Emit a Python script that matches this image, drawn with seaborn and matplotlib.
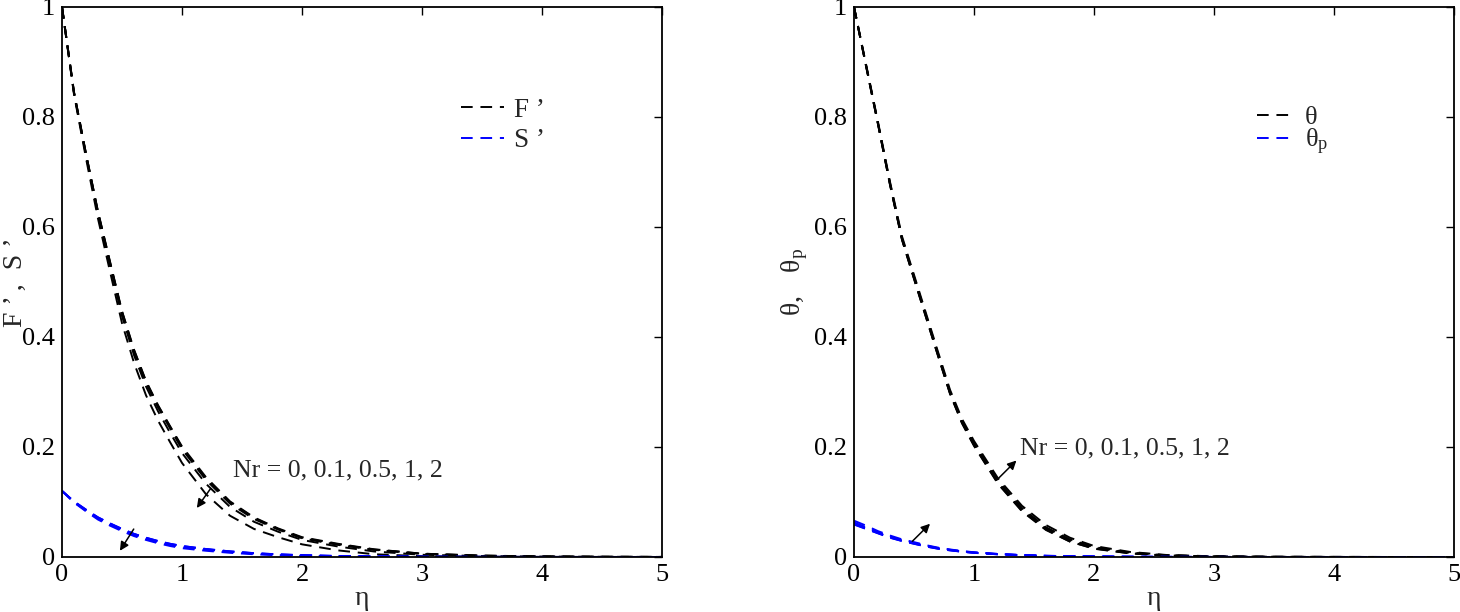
import matplotlib as mpl
import pandas as pd
import seaborn as sns
from matplotlib import pyplot as plt
from matplotlib.lines import Line2D

sns.set_theme(style='white')
mpl.rcParams['font.family'] = ['Liberation Serif', 'DejaVu Serif']
mpl.rcParams['mathtext.fontset'] = 'custom'
mpl.rcParams['mathtext.rm'] = 'Liberation Serif'

# eta grid shared by every curve
eta = [0, 0.1, 0.2, 0.3, 0.4, 0.5, 0.6, 0.7, 0.8, 0.9, 1.0, 1.2, 1.4, 1.6,
       1.8, 2.0, 2.3, 2.6, 3.0, 3.5, 4.0, 4.5, 5.0]
nr_values = ['0', '0.1', '0.5', '1', '2']

# F' for Nr = 0, 0.1, 0.5, 1, 2
fp_nr0 = [1.0, 0.845, 0.733, 0.628, 0.537, 0.447, 0.377, 0.320, 0.276, 0.238, 0.201,
          0.145, 0.101, 0.072, 0.052, 0.036, 0.024, 0.014, 0.006, 0.0025, 0.001, 0.0004, 0.0001]
fp_nr01 = [1.0, 0.845, 0.733, 0.627, 0.536, 0.446, 0.376, 0.319, 0.275, 0.237, 0.199,
           0.143, 0.100, 0.071, 0.051, 0.035, 0.023, 0.0135, 0.006, 0.0024, 0.001, 0.0004, 0.0001]
fp_nr05 = [1.0, 0.844, 0.732, 0.626, 0.534, 0.444, 0.373, 0.316, 0.272, 0.234, 0.196,
           0.140, 0.097, 0.069, 0.050, 0.034, 0.022, 0.013, 0.0055, 0.0022, 0.0009, 0.0003, 0.0001]
fp_nr1 = [1.0, 0.843, 0.730, 0.623, 0.530, 0.438, 0.367, 0.310, 0.265, 0.226, 0.189,
          0.133, 0.091, 0.064, 0.046, 0.031, 0.019, 0.010, 0.004, 0.0017, 0.0007, 0.0003, 0.0001]
fp_nr2 = [1.0, 0.841, 0.725, 0.615, 0.519, 0.425, 0.353, 0.294, 0.248, 0.209, 0.171,
          0.114, 0.075, 0.051, 0.036, 0.023, 0.012, 0.005, 0.0015, 0.0005, 0.0002, 0.0001, 0.0]

# S'
sp_nr0 = [0.120, 0.101, 0.086, 0.072, 0.061, 0.051, 0.042, 0.035, 0.029, 0.024, 0.020,
          0.0145, 0.0102, 0.007, 0.0048, 0.0033, 0.0018, 0.001, 0.0004, 0.0002, 0.0001, 0.0, 0.0]
sp_nr01 = [0.120, 0.101, 0.086, 0.072, 0.061, 0.051, 0.042, 0.035, 0.029, 0.024, 0.020,
           0.0144, 0.0101, 0.0069, 0.0047, 0.0032, 0.0017, 0.0009, 0.0004, 0.0001, 0.0, 0.0, 0.0]
sp_nr05 = [0.120, 0.100, 0.085, 0.071, 0.060, 0.050, 0.041, 0.034, 0.028, 0.023, 0.019,
           0.0138, 0.0096, 0.0065, 0.0044, 0.0030, 0.0016, 0.0008, 0.0003, 0.0001, 0.0, 0.0, 0.0]
sp_nr1 = [0.120, 0.100, 0.084, 0.070, 0.059, 0.049, 0.040, 0.033, 0.027, 0.022, 0.018,
          0.0130, 0.0090, 0.0060, 0.0040, 0.0026, 0.0013, 0.0006, 0.0002, 0.0001, 0.0, 0.0, 0.0]
sp_nr2 = [0.120, 0.099, 0.083, 0.068, 0.057, 0.047, 0.038, 0.031, 0.025, 0.020, 0.016,
          0.0113, 0.0076, 0.0049, 0.0031, 0.0019, 0.0009, 0.0004, 0.0001, 0.0, 0.0, 0.0, 0.0]

# theta
th_nr0 = [1.0, 0.893, 0.787, 0.677, 0.577, 0.506, 0.436, 0.366, 0.297, 0.243, 0.202,
          0.133, 0.083, 0.049, 0.028, 0.015, 0.0065, 0.0025, 0.0008, 0.0002, 0.0001, 0.0, 0.0]
th_nr01 = [1.0, 0.893, 0.787, 0.677, 0.577, 0.506, 0.436, 0.366, 0.297, 0.244, 0.203,
           0.134, 0.084, 0.050, 0.028, 0.0155, 0.0067, 0.0026, 0.0008, 0.0002, 0.0001, 0.0, 0.0]
th_nr05 = [1.0, 0.894, 0.788, 0.678, 0.578, 0.508, 0.438, 0.368, 0.299, 0.245, 0.205,
           0.136, 0.086, 0.052, 0.030, 0.017, 0.0073, 0.0029, 0.0009, 0.0003, 0.0001, 0.0, 0.0]
th_nr1 = [1.0, 0.895, 0.789, 0.680, 0.580, 0.510, 0.440, 0.370, 0.301, 0.247, 0.207,
          0.139, 0.089, 0.054, 0.032, 0.018, 0.008, 0.0032, 0.001, 0.0003, 0.0001, 0.0, 0.0]
th_nr2 = [1.0, 0.896, 0.791, 0.682, 0.583, 0.513, 0.443, 0.373, 0.304, 0.251, 0.211,
          0.143, 0.093, 0.058, 0.035, 0.020, 0.0092, 0.0037, 0.0012, 0.0003, 0.0001, 0.0, 0.0]

# theta_p
tp_nr0 = [0.059, 0.051, 0.043, 0.035, 0.029, 0.024, 0.019, 0.015, 0.012, 0.0095, 0.0075,
          0.0048, 0.003, 0.0018, 0.0011, 0.0007, 0.0003, 0.0001, 0.0, 0.0, 0.0, 0.0, 0.0]
tp_nr01 = [0.0595, 0.0515, 0.0433, 0.0353, 0.0292, 0.0242, 0.0192, 0.0152, 0.0122, 0.0097, 0.0076,
           0.0049, 0.0031, 0.0019, 0.0012, 0.0007, 0.0003, 0.0001, 0.0, 0.0, 0.0, 0.0, 0.0]
tp_nr05 = [0.061, 0.053, 0.044, 0.036, 0.030, 0.025, 0.020, 0.0158, 0.0127, 0.0100, 0.0079,
           0.0051, 0.0032, 0.0020, 0.0013, 0.0008, 0.0004, 0.0002, 0.0001, 0.0, 0.0, 0.0, 0.0]
tp_nr1 = [0.063, 0.054, 0.045, 0.037, 0.031, 0.0257, 0.0206, 0.0163, 0.0131, 0.0103, 0.0082,
          0.0053, 0.0034, 0.0021, 0.0014, 0.0008, 0.0004, 0.0002, 0.0001, 0.0, 0.0, 0.0, 0.0]
tp_nr2 = [0.066, 0.057, 0.047, 0.039, 0.032, 0.027, 0.0215, 0.017, 0.0137, 0.0108, 0.0086,
          0.0056, 0.0036, 0.0022, 0.0015, 0.0009, 0.0004, 0.0002, 0.0001, 0.0, 0.0, 0.0, 0.0]

fp_all = [fp_nr0, fp_nr01, fp_nr05, fp_nr1, fp_nr2]
sp_all = [sp_nr0, sp_nr01, sp_nr05, sp_nr1, sp_nr2]
th_all = [th_nr0, th_nr01, th_nr05, th_nr1, th_nr2]
tp_all = [tp_nr0, tp_nr01, tp_nr05, tp_nr1, tp_nr2]

DASH = (0, (6, 4))
LW = 1.4
FS = 19


def long_df(curves):
    frames = []
    for nr, vals in zip(nr_values, curves):
        frames.append(pd.DataFrame({'eta': eta, 'val': vals, 'Nr': nr}))
    return pd.concat(frames, ignore_index=True)


def style_axes(ax):
    ax.set_xlim(0, 5)
    ax.set_ylim(0, 1)
    ax.set_xticks([0, 1, 2, 3, 4, 5])
    ax.set_yticks([0, 0.2, 0.4, 0.6, 0.8, 1])
    ax.set_yticklabels(['0', '0.2', '0.4', '0.6', '0.8', '1'])
    ax.tick_params(direction='in', top=True, right=True, length=6, width=1,
                   labelsize=FS, pad=5, colors='black')
    for s in ax.spines.values():
        s.set_linewidth(1.3)
        s.set_color('black')
    ax.set_xlabel('η', fontsize=FS + 1, labelpad=0)


def draw(ax, top_curves, low_curves):
    for curves, color in ((top_curves, 'black'), (low_curves, 'blue')):
        df = long_df(curves)
        sns.lineplot(ax=ax, data=df, x='eta', y='val', units='Nr', estimator=None,
                     color=color, linestyle=DASH, linewidth=LW, legend=False)


fig = plt.figure(figsize=(14.6, 6.12), dpi=100)
ax1 = fig.add_axes([0.04247, 0.0899, 0.41096, 0.8987])
ax2 = fig.add_axes([0.58493, 0.0899, 0.41096, 0.8987])
arrow = dict(arrowstyle='-|>', color='black', lw=1.1, mutation_scale=13)

# left panel
draw(ax1, fp_all, sp_all)
style_axes(ax1)
ax1.set_ylabel('F ’ ,  S ’', fontsize=FS + 1)
ax1.yaxis.set_label_coords(-0.056, 0.5)
h1 = [Line2D([], [], color='black', ls=DASH, lw=LW),
      Line2D([], [], color='blue', ls=DASH, lw=LW)]
ax1.legend(h1, ['F ’', 'S ’'], loc='upper left', bbox_to_anchor=(0.665, 0.835),
           frameon=False, fontsize=FS + 0.5, handlelength=1.6, handletextpad=0.35,
           borderpad=0, borderaxespad=0, labelspacing=0.2)
ax1.text(1.425, 0.158, 'Nr = 0, 0.1, 0.5, 1, 2', fontsize=FS - 0.5, va='center', ha='left')
ax1.annotate('', xy=(1.11, 0.085), xytext=(1.25, 0.128), arrowprops=arrow)
ax1.annotate('', xy=(0.47, 0.007), xytext=(0.61, 0.055), arrowprops=arrow)

# right panel
draw(ax2, th_all, tp_all)
style_axes(ax2)
ax2.set_ylabel(r'$\mathregular{θ,\ \ θ_p}$', fontsize=FS + 1)
ax2.yaxis.set_label_coords(-0.074, 0.5)
h2 = [Line2D([], [], color='black', ls=DASH, lw=LW),
      Line2D([], [], color='blue', ls=DASH, lw=LW)]
ax2.legend(h2, ['θ', r'$\mathregular{θ_p}$'], loc='upper left', bbox_to_anchor=(0.672, 0.82),
           frameon=False, fontsize=FS, handlelength=1.4, handletextpad=0.4,
           borderpad=0, borderaxespad=0, labelspacing=-0.1)
ax2.text(1.38, 0.198, 'Nr = 0, 0.1, 0.5, 1, 2', fontsize=FS - 0.5, va='center', ha='left')
ax2.annotate('', xy=(1.37, 0.179), xytext=(1.19, 0.14), arrowprops=arrow)
ax2.annotate('', xy=(0.65, 0.064), xytext=(0.47, 0.025), arrowprops=arrow)

fig.savefig('out.png', dpi=100)
